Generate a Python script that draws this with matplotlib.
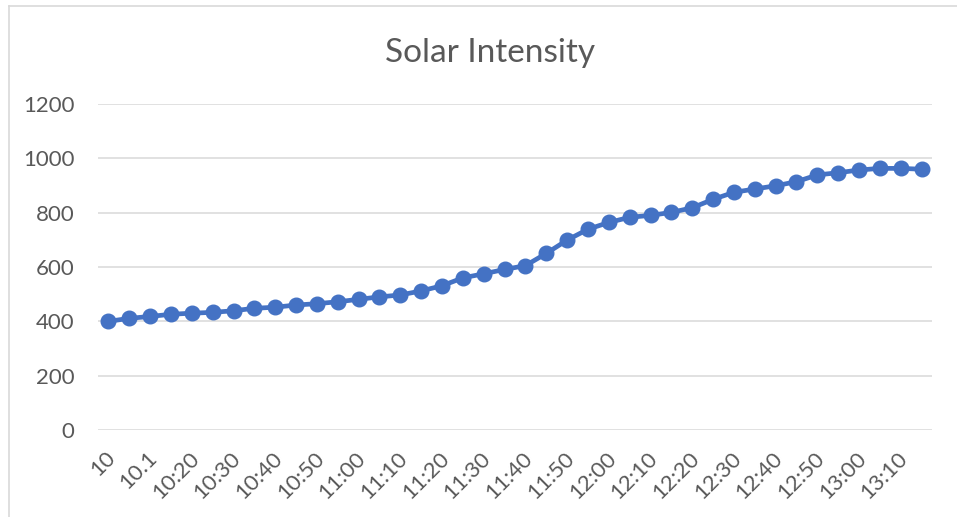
import matplotlib
matplotlib.use("Agg")
import matplotlib.pyplot as plt
import matplotlib.transforms as mtrans
from matplotlib.lines import Line2D

# ---- data ----
times = ["10", "10.05", "10.1", "10:15", "10:20", "10:25", "10:30", "10:35",
         "10:40", "10:45", "10:50", "10:55", "11:00", "11:05", "11:10", "11:15",
         "11:20", "11:25", "11:30", "11:35", "11:40", "11:45", "11:50", "11:55",
         "12:00", "12:05", "12:10", "12:15", "12:20", "12:25", "12:30", "12:35",
         "12:40", "12:45", "12:50", "12:55", "13:00", "13:05", "13:10", "13:15"]
intensity = [400, 411, 418, 426, 430, 433, 439, 448, 452, 460,
             465, 472, 481, 490, 497, 512, 531, 560, 575, 591,
             605, 650, 699, 739, 764, 783, 790, 801, 818, 849,
             875, 887, 899, 914, 939, 947, 957, 963, 963, 960]
y_ticks = [0, 200, 400, 600, 800, 1000, 1200]
title = "Solar Intensity"

W, H = 957, 517
fig = plt.figure(figsize=(W / 100, H / 100), dpi=100)
fig.patch.set_facecolor("white")

font = ["Lato", "DejaVu Sans"]
grey = "#595959"

ax = fig.add_axes([98 / W, (H - 430) / H, (932 - 98) / W, (430 - 104) / H])
x = list(range(len(times)))
ax.plot(x, intensity, color="#4472C4", linewidth=3.4, marker="o",
        markersize=10.5, markerfacecolor="#4472C4", markeredgecolor="#4472C4",
        zorder=3, clip_on=False)

ax.set_xlim(-0.5, len(times) - 0.5)
ax.set_ylim(0, 1200)
ax.set_yticks(y_ticks)
ax.set_yticklabels([str(v) for v in y_ticks], family=font, fontsize=16, color=grey)
ax.set_xticks(x[::2])
ax.set_xticklabels(times[::2], family=font, fontsize=16, color=grey,
                   rotation=45, ha="right", va="center", rotation_mode="anchor")
ax.tick_params(axis="y", length=0, pad=17)
ax.tick_params(axis="x", length=0, pad=18)
shift = mtrans.ScaledTranslation(4 / 100, 0, fig.dpi_scale_trans)
for lbl in ax.get_xticklabels():
    lbl.set_transform(lbl.get_transform() + shift)
ax.grid(axis="y", color="#D9D9D9", linewidth=1.1)
ax.set_axisbelow(True)
for s in ax.spines.values():
    s.set_visible(False)

fig.text(490 / W, 1 - 62 / H, title, ha="center", va="baseline",
         family=font, fontsize=24, fontweight="normal", color=grey)

# chart area border (top and left visible)
fig.add_artist(Line2D([9 / W, 1], [1 - 6 / H, 1 - 6 / H], transform=fig.transFigure,
                      color="#D9D9D9", linewidth=1.2))
fig.add_artist(Line2D([9 / W, 9 / W], [0, 1 - 6 / H], transform=fig.transFigure,
                      color="#D9D9D9", linewidth=1.2))

fig.savefig("out.png", dpi=100)
